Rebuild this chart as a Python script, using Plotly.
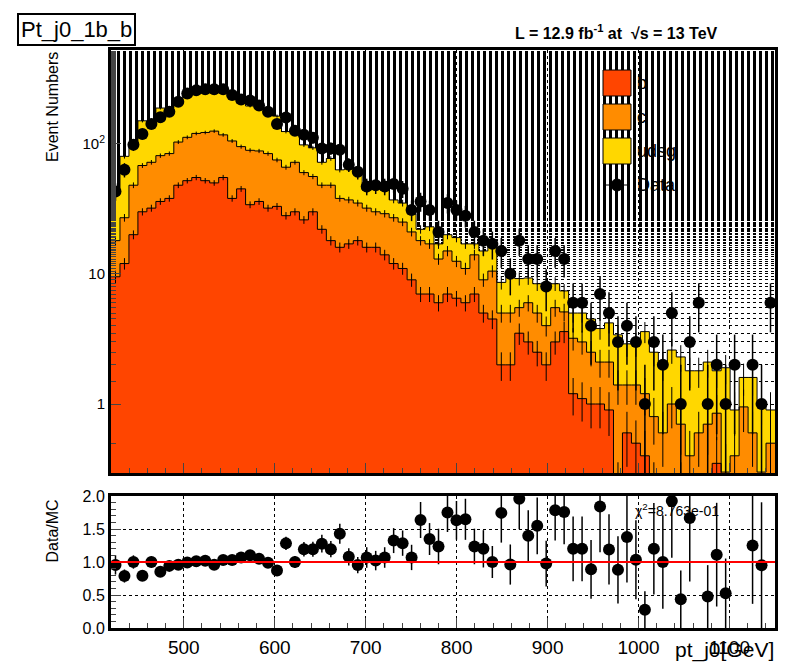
import numpy as np
import plotly.graph_objects as go

x_lo, x_hi = 420.0, 1150.0
nbins = 74
data = [43,63,98,119,142,160,176,210,243,257,262,262,262,237,219,215,197,176,142,159,
        126,117,111,92,92,90,69,61,47,48,47,49,45,31,36,31,21,35,31,28,
        21,18,17,15,10,18,13,13,8,15,13,6,6,4,7,5,3,4,3,1,
        3,2,5,1,3,6,1,2,1,2,0,2,1,6]
b = [9.5,12,20,30,32,36,38,48,52,55,52,50,55,38,45,34,36,32,33,28,
     30,26,30,22,18,16,17,18,16,16,14,12,11,9,7,7,6,7,6.5,6,
     7,5,4.5,2,2,3.5,3,2.5,2,3,3.6,1.2,1.1,1,1,0.9,0.2,0.6,0.5,0.4,
     0.2,0,0.1,0.2,0,0,0.1,0.35,0,0,0.15,0,0,0]
c = [8.5,15,28,38,40,45,46,55,60,65,70,75,62,67,50,55,52,52,42,38,
     42,34,26,26,30,22,20,17,16,14,15,15,14,12,11,10,7,8,6,5,
     7,4,6,3,3,2,3,2.5,2,2.5,1.5,2,1.9,1.5,1.1,1.2,1.2,0.8,0.9,0.8,
     0.6,0.6,0.9,0.5,0.4,0.6,0.6,0.5,0.3,0.4,0.8,0.6,0.3,0.5]
udsg = [27,53,50,82,70,107,103,116,133,134,135,148,137,125,110,106,100,94,88,58,
        54,38,37,24,29,25,27,29,12,17,15,10,10,8,4,6,4,5,6.5,6,
        3,6,6.5,3.6,5.4,3.7,3.3,3.4,4.2,2.9,2.3,1.8,2,2,1.7,2.1,2,1.5,1.5,2.4,
        1.7,1.4,1.6,1.6,1.4,1.2,1.4,0.95,1.6,0.5,0.65,1.0,0.75,0.4]
legend_names = ["b", "c", "udsg", "Data"]
chi2_text = "χ<sup>2</sup>=8.763e-01"

edges = np.linspace(x_lo, x_hi, nbins + 1)
w = edges[1] - edges[0]
ctr = (edges[:-1] + edges[1:]) / 2
b = np.array(b); c = np.array(c); l = np.array(udsg); d = np.array(data, float)
s_b = b; s_bc = b + c; s_all = b + c + l

L, R, T, B = 103, 31, 42, 49
PW, PH = 798 - L - R, 669 - T - B
def px(xp): return (xp - L) / PW
def py(yp): return (669 - B - yp) / PH

fig = go.Figure()
cols = {"b": "#ff4500", "c": "#ff8c00", "udsg": "#ffd700"}
for name, vals in [("b", b), ("c", c), ("udsg", l)]:
    fig.add_trace(go.Bar(x=ctr, y=vals, width=w, name=name, marker=dict(color=cols[name], line=dict(width=0)),
                         xaxis="x", yaxis="y", showlegend=False))
for cum in [s_b, s_bc, s_all]:
    xs = np.append(edges[:-1], edges[-1]); ys = np.append(cum, cum[-1])
    ys = np.where(ys <= 0, 1e-3, ys)
    fig.add_trace(go.Scatter(x=xs, y=ys, mode="lines", line=dict(shape="hv", color="black", width=1),
                             showlegend=False, hoverinfo="skip"))
    fig.add_trace(go.Scatter(x=ctr, y=np.where(cum > 0, cum, np.nan), mode="markers", marker=dict(size=1, color="black"),
                             error_y=dict(type="data", array=np.sqrt(np.maximum(cum, 0)) * 0.35, color="black", thickness=1, width=0),
                             showlegend=False, hoverinfo="skip"))
dd = np.where(d > 0, d, np.nan)
fig.add_trace(go.Scatter(x=ctr, y=dd, mode="markers", marker=dict(size=12, color="black"),
                         error_y=dict(type="data", array=np.sqrt(d), color="black", thickness=1.5, width=0),
                         showlegend=False))
ratio = d / s_all
rerr = np.sqrt(d) / s_all
rr = np.where((d > 0) & (ratio <= 2.0), ratio, np.nan)
fig.add_trace(go.Scatter(x=ctr, y=rr, mode="markers", marker=dict(size=12, color="black"),
                         error_y=dict(type="data", array=rerr, color="black", thickness=1.5, width=0),
                         xaxis="x2", yaxis="y2", showlegend=False))

ax = dict(showline=True, linewidth=3, linecolor="black", mirror=True, ticks="inside", ticklen=10,
          showgrid=True, gridcolor="black", griddash="dot", gridwidth=1, zeroline=False, automargin=False,
          tickfont=dict(family="Liberation Sans", size=19, color="black"))
xminor = dict(ticks="inside", ticklen=5, dtick=20, showgrid=False)
shapes = [dict(type="line", xref="x2", yref="y2", x0=x_lo, x1=x_hi, y0=1, y1=1, line=dict(color="red", width=2))]
annotations = [
    dict(text="Pt_j0_1b_b", xref="paper", yref="paper", x=px(9), y=py(5), xanchor="left", yanchor="top",
         showarrow=False, font=dict(size=22), bordercolor="black", borderwidth=2, borderpad=2, bgcolor="white"),
    dict(text="<b>L = 12.9 fb<sup>-1</sup> at  √s = 13 TeV</b>", xref="paper", yref="paper", x=px(712), y=py(12),
         xanchor="right", yanchor="top", showarrow=False, font=dict(size=16)),
    dict(text="Event Numbers", xref="paper", yref="paper", x=px(44), y=py(42), xanchor="center", yanchor="top",
         textangle=-90, showarrow=False, font=dict(size=16)),
    dict(text="Data/MC", xref="paper", yref="paper", x=px(44), y=py(490), xanchor="center", yanchor="top",
         textangle=-90, showarrow=False, font=dict(size=16)),
    dict(text="pt_j0[GeV]", xref="paper", yref="paper", x=px(768), y=py(642), xanchor="right", yanchor="middle",
         showarrow=False, font=dict(size=21)),
    dict(text=chi2_text, xref="paper", yref="paper", x=px(625), y=py(502), xanchor="left", yanchor="middle",
         showarrow=False, font=dict(size=14)),
]
# legend drawn manually
for i, name in enumerate(legend_names[:3]):
    y0 = 62 + 34 * i
    shapes.append(dict(type="rect", xref="paper", yref="paper", x0=px(595), x1=px(623), y0=py(y0 + 26), y1=py(y0),
                       fillcolor=cols[name], line=dict(color="black", width=1)))
    annotations.append(dict(text=name, xref="paper", yref="paper", x=px(627), y=py(y0 + 13), xanchor="left",
                            yanchor="middle", showarrow=False, font=dict(size=18)))
shapes.append(dict(type="line", xref="paper", yref="paper", x0=px(596), x1=px(622), y0=py(177), y1=py(177),
                   line=dict(color="black", width=1)))
shapes.append(dict(type="circle", xref="paper", yref="paper", x0=px(603), x1=px(615), y0=py(183), y1=py(171),
                   fillcolor="black", line=dict(color="black", width=1)))
annotations.append(dict(text=legend_names[3], xref="paper", yref="paper", x=px(627), y=py(177), xanchor="left",
                        yanchor="middle", showarrow=False, font=dict(size=18)))

fig.update_layout(
    width=798, height=669, margin=dict(l=L, r=R, t=T, b=B, autoexpand=False),
    paper_bgcolor="white", plot_bgcolor="white", barmode="stack", bargap=0, showlegend=False,
    font=dict(family="Liberation Sans", color="black"),
    xaxis=dict(ax, range=[x_lo, x_hi], domain=[0, 1], anchor="y", showticklabels=False,
               tickvals=[500, 600, 700, 800, 900, 1000, 1100], minor=xminor),
    yaxis=dict(ax, type="log", range=[np.log10(0.295), np.log10(525)], domain=[py(465), 1], anchor="x",
               tickvals=[1, 10, 100], ticktext=["1", "10", "10<sup>2</sup>"], tickfont=dict(size=15),
               minor=dict(ticks="inside", ticklen=5, showgrid=True, gridcolor="black", griddash="dot")),
    xaxis2=dict(ax, range=[x_lo, x_hi], domain=[0, 1], anchor="y2",
                tickvals=[500, 600, 700, 800, 900, 1000, 1100], minor=xminor),
    yaxis2=dict(ax, range=[0, 2], domain=[0, py(488)], anchor="x2", tickvals=[0, 0.5, 1, 1.5, 2],
                tickformat=".1f", tickfont=dict(size=16), minor=dict(ticks="inside", ticklen=5, dtick=0.1, showgrid=False)),
    shapes=shapes, annotations=annotations,
)
fig.write_html("out.html")
